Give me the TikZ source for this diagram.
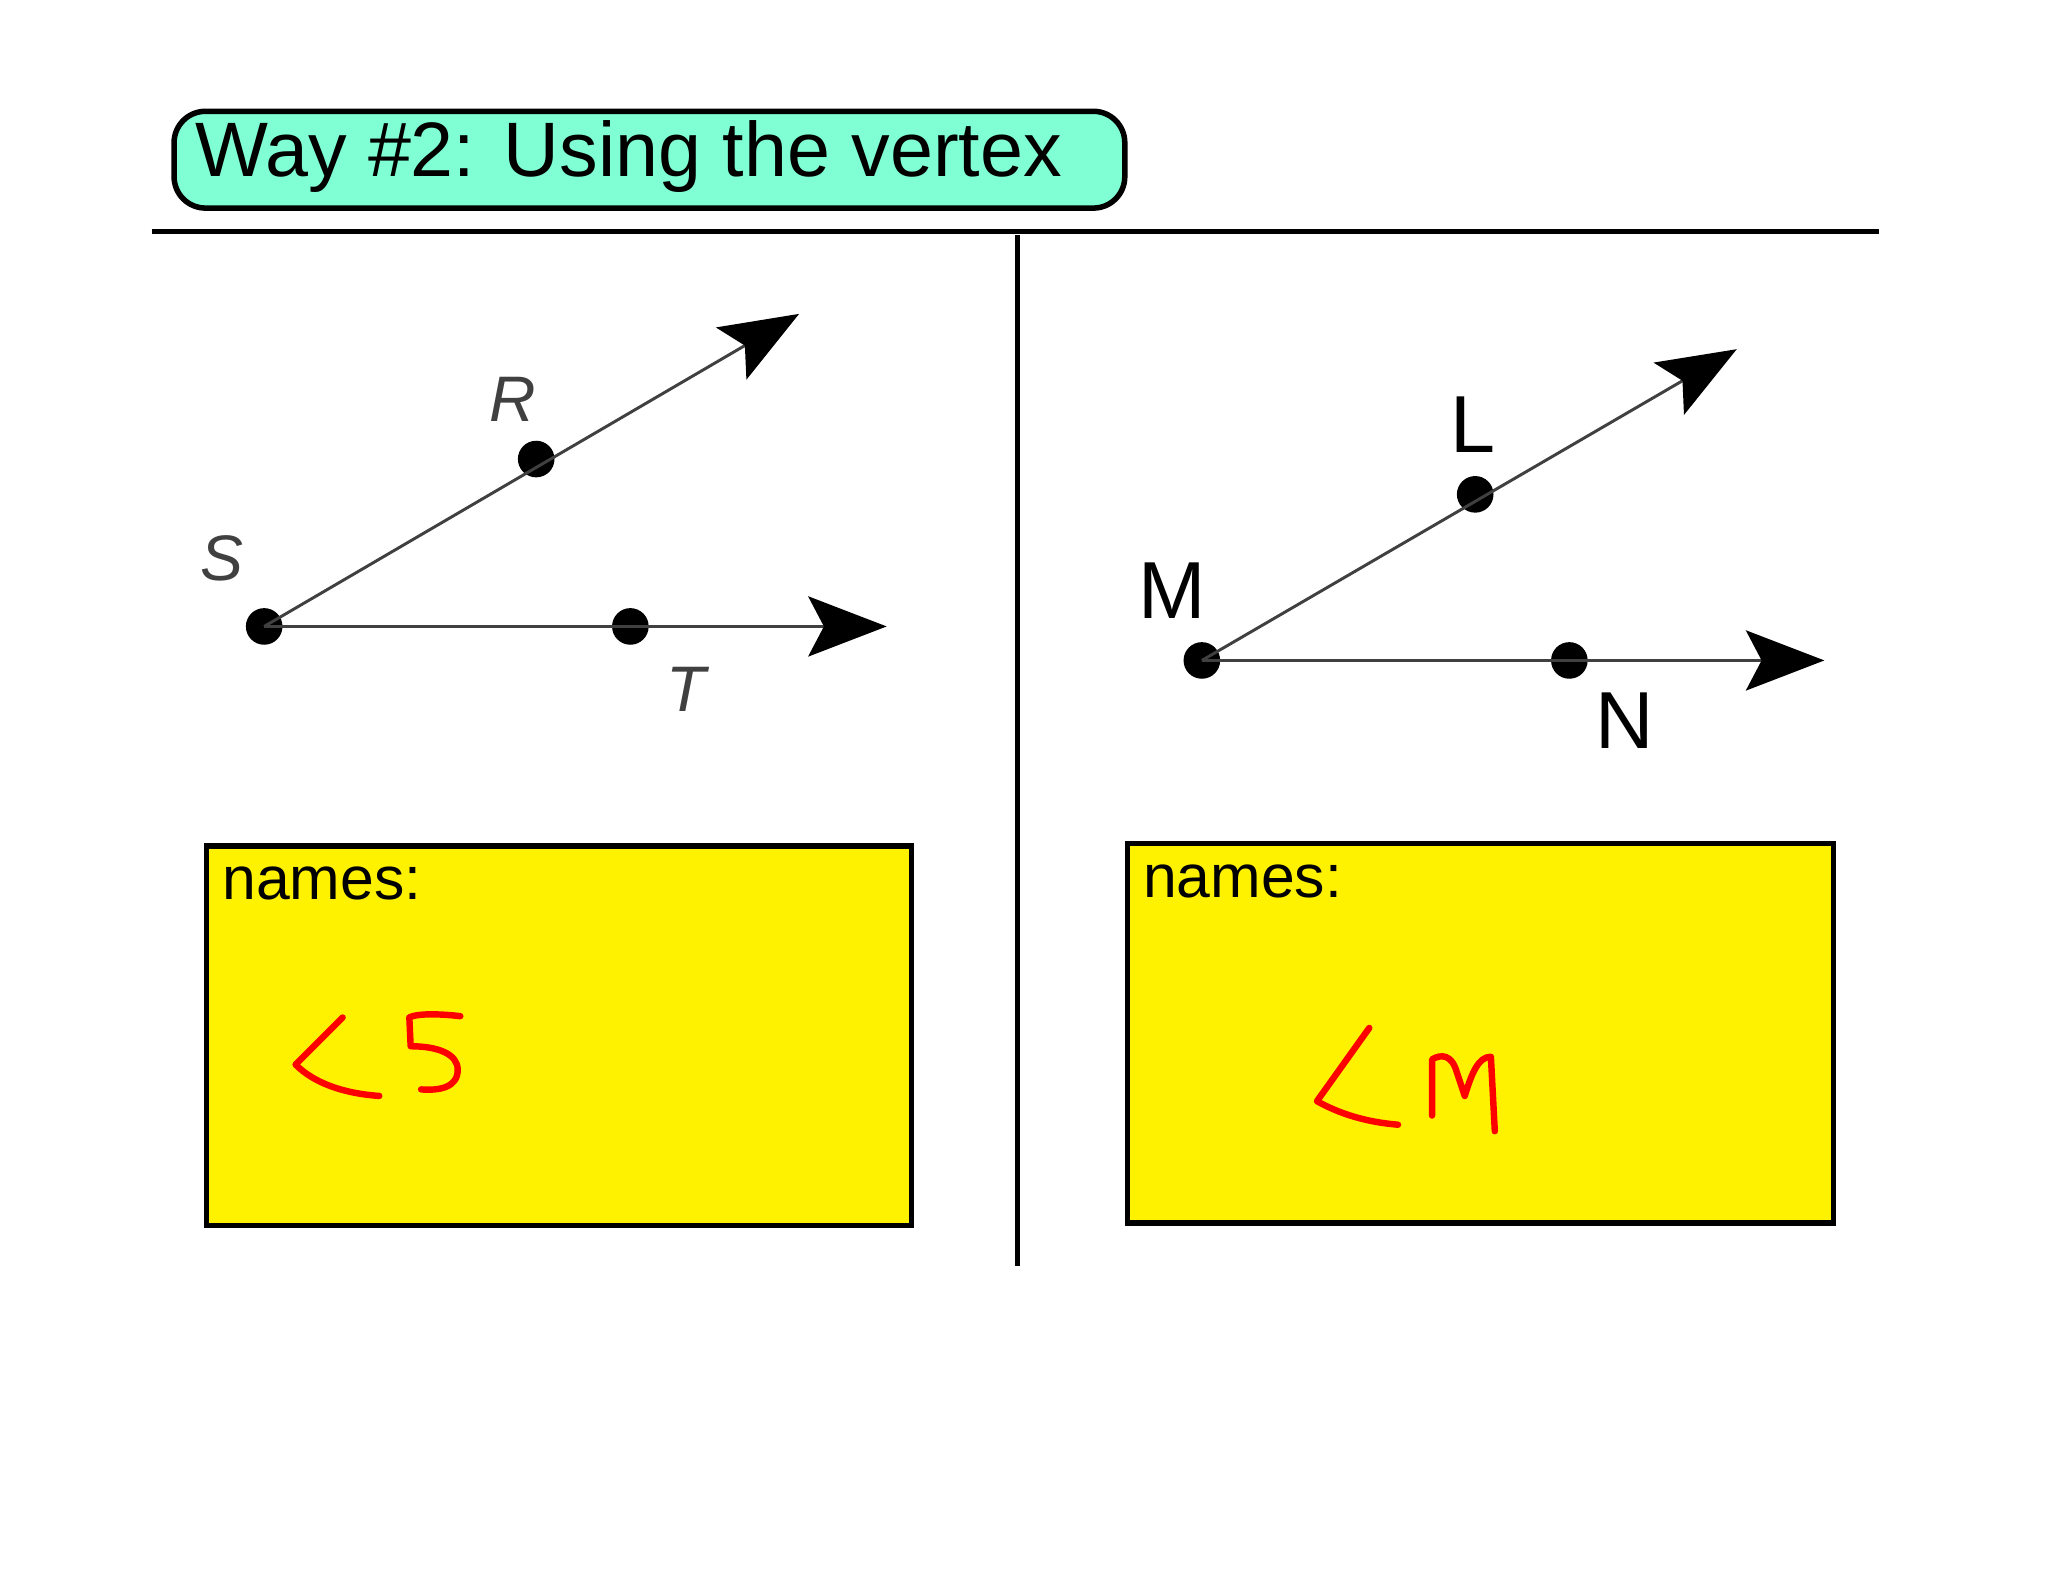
\documentclass[tikz,border=0pt]{standalone}
\usepackage{fontspec}
\setmainfont{Liberation Sans}
\usetikzlibrary{arrows.meta}
\begin{document}
\begin{tikzpicture}[x=0.05cm,y=-0.05cm,
  dot/.style={circle,fill=black,inner sep=0pt,minimum size=1.4cm},
  ray/.style={draw=black!75,line width=3.2pt,-{Stealth[length=3cm,width=2.3cm,inset=0.6cm,fill=black,color=black]}},
  glab/.style={text=black!75,font=\fontsize{70}{70}\selectfont\itshape},
  blab/.style={font=\fontsize{88}{88}\selectfont},
  ybox/.style={draw=black,line width=6pt,fill=yellow},
  hand/.style={draw=red,line width=7pt,line cap=round,line join=round}]
\useasboundingbox[fill=white] (0,0) rectangle (1566,1209);
% title
\node[draw=black,line width=6pt,fill={rgb,255:red,128;green,255;blue,212},rounded corners=1.2cm,
  minimum width=36.35cm,minimum height=3.7cm,anchor=north west,inner sep=0pt] (title) at (131,83) {};
\node[anchor=west,font=\fontsize{84}{84}\selectfont,inner sep=0pt] (tt) at (149,120) {Way \#2: Using the vertex};
% separators
\coordinate (h1) at (116,177); \coordinate (h2) at (1437,177);
\coordinate (v1) at (778,180); \coordinate (v2) at (778,968);
\draw[line width=6pt] (h1) -- (h2);
\draw[line width=6pt] (v1) -- (v2);
% left angle
\node[dot] (S) at (202,479) {};
\node[dot] (R) at (410,351) {};
\node[dot] (T) at (482,479) {};
\coordinate (Ra) at (611,240); \coordinate (Ta) at (678,479);
\draw[ray] (S.center) -- (Ra);
\draw[ray] (S.center) -- (Ta);
\node[glab] (Sl) at (170,427) {S};
\node[glab] (Rl) at (392,305) {R};
\node[glab] (Tl) at (525,527) {T};
% right angle
\node[dot] (M) at (919,505) {};
\node[dot] (L) at (1128,378) {};
\node[dot] (N) at (1200,505) {};
\coordinate (La) at (1328,267); \coordinate (Na) at (1395,505);
\draw[ray] (M.center) -- (La);
\draw[ray] (M.center) -- (Na);
\node[blab] (Ml) at (896,452) {M};
\node[blab] (Ll) at (1126,325) {L};
\node[blab] (Nl) at (1242,551) {N};
% boxes
\draw[ybox] (158,647) rectangle (697,937);
\draw[ybox] (862,645) rectangle (1402,935);
\node[anchor=north west,inner sep=0pt,font=\fontsize{66}{66}\selectfont] (n1) at (170,663) {names:};
\node[anchor=north west,inner sep=0pt,font=\fontsize{66}{66}\selectfont] (n2) at (874,661) {names:};
% handwriting
\draw[hand] (262,778) -- (226,814) .. controls (240,828) and (262,836) .. (290,838);
\draw[hand] (352,777) .. controls (335,775) and (318,775) .. (313,778) -- (314,800)
  .. controls (335,800) and (350,806) .. (350,818) .. controls (350,832) and (335,834) .. (322,833);
\draw[hand] (1047,786) -- (1007,842) .. controls (1025,852) and (1045,858) .. (1069,860);
\draw[hand] (1095,853) -- (1095,810) .. controls (1102,806) and (1110,806) .. (1114,820)
  -- (1120,838) .. controls (1125,822) and (1130,808) .. (1140,808) -- (1143,865);
\end{tikzpicture}
\end{document}
